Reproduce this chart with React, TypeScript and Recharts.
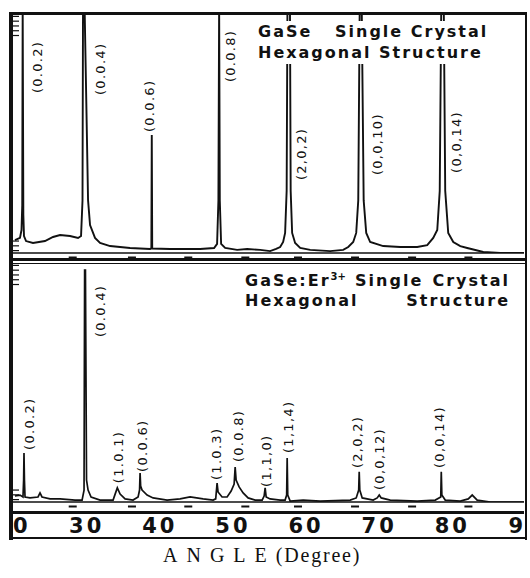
import React from "react";
import { ComposedChart, Line, Scatter, XAxis, YAxis } from "recharts";

const INK = "#111";
const sans = "'DejaVu Sans', Verdana, sans-serif";
const serif = "'Liberation Serif', 'Times New Roman', serif";

// printed 2θ scale under the lower trace
const angleTicks = [20, 30, 40, 50, 60, 70, 80, 90];
// little marks of the recorder's own scale, just under each baseline
const recorderMarks = [28.3, 36.4, 44.1, 51.9, 59.1, 66.9, 74.7, 82.4];
// ruler ticks on the left edge of each panel
const rulerTicks = [1, 3, 5, 91, 93, 95, 97, 99];

// GaSe single crystal (upper trace), intensity in % of panel height
const gaseAngle = [
  20.4, 21.09, 21.3, 21.4, 21.46, 21.55, 21.64, 21.92, 22.87, 24.51, 25.61, 26.57, 27.93, 29.03, 29.44,
  29.64, 29.71, 29.92, 30.4, 30.67, 31.35, 32.04, 33.41, 36.14, 38.88, 39.05, 39.11, 39.17, 41.61, 45.72,
  47.63, 48.04, 48.22, 48.32, 48.41, 48.59, 49.14, 50.78, 52.15, 53.93, 55.29, 56.11, 56.66, 57.07, 57.34,
  57.55, 57.66, 58.0, 58.1, 58.3, 58.71, 59.4, 60.77, 63.5, 65.28, 65.97, 66.65, 67.06, 67.34, 67.54,
  67.81, 68.08, 68.43, 68.97, 70.75, 73.08, 75.4, 76.77, 77.59, 78.14, 78.48, 78.69, 79.03, 79.23, 79.64,
  80.33, 81.29, 82.24, 84.43, 86.76, 90.2,
];
const gaseCounts = [
  5.4, 6.3, 9.6, 20, 104, 16, 7.1, 5.0, 4.2, 5.0, 6.7, 7.5, 7.1, 6.3, 7.1,
  22, 104, 104, 22, 11.7, 6.3, 4.2, 2.9, 2.1, 1.7, 1.9, 49.4, 1.9, 1.7, 1.7,
  2.1, 3.8, 22, 104, 22, 3.8, 2.1, 1.3, 1.7, 1.3, 0.8, 1.7, 2.5, 4.6, 8.4,
  26, 104, 104, 26, 8.4, 4.2, 2.1, 1.3, 0.8, 1.3, 2.5, 4.6, 8.4, 22, 104,
  104, 22, 8.4, 4.6, 2.9, 2.5, 2.5, 3.3, 6.3, 9.6, 26, 104, 104, 26, 8.4,
  4.6, 2.9, 2.1, 0.4, 0, 0,
];

// GaSe:Er3+ single crystal (lower trace)
const erAngle = [
  20.4, 21.09, 21.5, 21.59, 21.64, 21.7, 21.78, 22.46, 23.56, 23.83, 24.1, 25.2, 26.57, 28.62, 29.58,
  29.85, 29.93, 30.04, 30.19, 30.4, 30.81, 32.04, 33.82, 34.1, 34.4, 34.78, 35.46, 36.55, 37.24, 37.44,
  37.51, 37.59, 37.78, 38.47, 39.29, 41.2, 42.98, 44.35, 46.13, 47.5, 47.85, 48.04, 48.17, 48.72, 49.41,
  49.96, 50.37, 50.51, 50.64, 51.05, 51.6, 52.28, 53.24, 54.2, 54.47, 54.61, 54.75, 55.29, 56.66, 57.34,
  57.55, 57.62, 57.7, 58.03, 59.81, 62.13, 66.24, 67.06, 67.4, 67.47, 67.55, 67.88, 69.38, 69.93, 70.21,
  70.48, 71.71, 75.4, 77.87, 78.62, 78.69, 78.77, 79.23, 81.29, 82.38, 82.92, 83.6, 85.39, 90.2,
];
const erCounts = [
  2.5, 2.9, 2.1, 9.2, 20.5, 9.2, 2.1, 1.7, 2.1, 3.8, 2.1, 1.3, 1.3, 0.8, 0.8,
  5.0, 97, 97, 9.2, 5.0, 2.1, 0.8, 0.8, 3.3, 5.9, 3.3, 1.3, 0.8, 2.1, 5.0,
  12.1, 6.7, 5.0, 2.9, 1.7, 0.8, 1.3, 2.1, 1.3, 0.8, 1.3, 7.9, 4.2, 2.1, 2.1,
  4.6, 7.5, 14.6, 9.2, 6.3, 3.8, 1.7, 0.8, 0.8, 2.5, 5.9, 2.1, 1.3, 0.8, 0.8,
  2.9, 18.4, 2.9, 0.4, 0.8, 0.4, 0.8, 1.7, 5.0, 12.6, 5.0, 1.7, 0.8, 1.7, 2.9,
  1.7, 0.8, 0.4, 0.8, 2.1, 12.6, 2.9, 0.8, 0.4, 1.3, 2.9, 0.8, 0, 0,
];

// Miller indices written next to the peaks (angle, height where the text starts)
const gaseHkl = ["(0.0.2)", "(0.0.4)", "(0.0.6)", "(0.0.8)", "(2,0,2)", "(0,0,10)", "(0,0,14)"];
const gaseHklAngle = [23.49, 32.04, 38.81, 49.82, 59.53, 69.93, 80.74];
const gaseHklAt = [66.9, 66.1, 50.6, 71.5, 30.5, 32.6, 33.5];

const erHkl = ["(0.0.2)", "(0.0.4)", "(1.0.1)", "(0.0.6)", "(1.0.3)", "(0.0.8)", "(1,1,0)", "(1,1,4)", "(2,0,2)", "(0,0,12)", "(0,0,14)"];
const erHklAngle = [22.46, 32.04, 34.57, 37.85, 47.98, 50.98, 54.75, 57.76, 67.2, 70.27, 78.48];
const erHklAt = [21.8, 69.0, 7.9, 12.6, 9.2, 16.7, 6.3, 20.5, 14.2, 5.0, 14.2];

const toRows = (angles: number[], counts: number[]) => angles.map((a, i) => ({ a, v: counts[i] }));
const toLabels = (names: string[], angles: number[], at: number[]) =>
  names.map((label, i) => ({ a: angles[i], v: at[i], label }));

const gaseRows = toRows(gaseAngle, gaseCounts);
const erRows = toRows(erAngle, erCounts);
const gaseLabels = toLabels(gaseHkl, gaseHklAngle, gaseHklAt);
const erLabels = toLabels(erHkl, erHklAngle, erHklAt);

function PeakLabel(props: any) {
  const { cx, cy, payload } = props;
  if (cx == null || cy == null) return null;
  return (
    <text x={cx} y={cy} transform={`rotate(-90 ${cx} ${cy})`} dominantBaseline="central"
      fontFamily={sans} fontSize={13} letterSpacing={1.3} fill={INK}>
      {payload.label}
    </text>
  );
}

function RecorderMark(props: any) {
  const { x, y } = props;
  return <line x1={x - 4} x2={x + 4} y1={y + 4.5} y2={y + 4.5} stroke={INK} strokeWidth={2} />;
}

function RulerMark(props: any) {
  const { x, y } = props;
  return <line x1={x} x2={x + 7} y1={y} y2={y} stroke={INK} strokeWidth={1.2} />;
}

// the scan is trimmed: only the "0" of 20 and the "9" of 90 are left on the strip
function AngleTick(props: any) {
  const { x, y, payload } = props;
  const first = payload.value === angleTicks[0];
  const last = payload.value === angleTicks[angleTicks.length - 1];
  const text = first ? "0" : last ? "9" : String(payload.value);
  const anchor = first ? "start" : last ? "end" : "middle";
  const tx = first ? x + 1 : last ? x + 2 : x + 1.5;
  return (
    <text x={tx} y={y + 20.5} textAnchor={anchor} fontFamily={sans} fontWeight="bold"
      fontSize={21} letterSpacing={3} fill={INK}>
      {text}
    </text>
  );
}

const rule = (left: number, top: number, width: number, height: number) => (
  <div style={{ position: "absolute", left, top, width, height, background: INK }} />
);

export default function App() {
  const yAxis = (
    <YAxis type="number" domain={[0, 100]} allowDataOverflow width={7} ticks={rulerTicks} interval={0}
      tickSize={0} tickMargin={0} axisLine={false} tickLine={false} tick={<RulerMark />} />
  );
  return (
    <div style={{ position: "absolute", left: 0, top: 0, width: 530, height: 578, background: "#fff", overflow: "hidden" }}>
      {/* GaSe */}
      <div style={{ position: "absolute", left: 13, top: 0, width: 512, height: 259, overflow: "hidden" }}>
        <div style={{ position: "absolute", left: -13, top: 0 }}>
          <ComposedChart width={530} height={259} margin={{ top: 14, right: 6, bottom: 0, left: 5 }}>
            <XAxis dataKey="a" type="number" domain={[20, 90]} allowDataOverflow ticks={recorderMarks} interval={0}
              tickLine={false} tickSize={0} tickMargin={0} height={6}
              axisLine={{ stroke: INK, strokeWidth: 1.5 }} tick={<RecorderMark />} />
            {yAxis}
            <Line data={gaseRows} dataKey="v" type="linear" stroke={INK} strokeWidth={1.9} dot={false} isAnimationActive={false} />
            <Scatter data={gaseLabels} dataKey="v" shape={PeakLabel} isAnimationActive={false} />
          </ComposedChart>
        </div>
      </div>

      {/* GaSe:Er3+ */}
      <div style={{ position: "absolute", left: 13, top: 263, width: 512, height: 276, overflow: "hidden" }}>
        <div style={{ position: "absolute", left: -13, top: 0 }}>
          <ComposedChart width={530} height={276} margin={{ top: 0, right: 6, bottom: 0, left: 5 }}>
            <XAxis dataKey="a" type="number" domain={[20, 90]} allowDataOverflow ticks={recorderMarks} interval={0}
              tickLine={false} tickSize={0} tickMargin={0} height={10.5}
              axisLine={{ stroke: INK, strokeWidth: 1.5 }} tick={<RecorderMark />} />
            <XAxis xAxisId="deg" dataKey="a" type="number" domain={[20, 90]} allowDataOverflow ticks={angleTicks} interval={0}
              tickLine={false} tickSize={0} tickMargin={0} height={26.5}
              axisLine={{ stroke: INK, strokeWidth: 3 }} tick={<AngleTick />} />
            {yAxis}
            <Line data={erRows} dataKey="v" type="linear" stroke={INK} strokeWidth={1.7} dot={false} isAnimationActive={false} />
            <Scatter data={erLabels} dataKey="v" shape={PeakLabel} isAnimationActive={false} />
          </ComposedChart>
        </div>
      </div>

      {/* frame */}
      {rule(9, 12, 518, 3)}
      {rule(9, 12, 4, 528)}
      {rule(525, 12, 2, 528)}
      {rule(9, 258, 518, 3)}
      {rule(9, 263, 518, 1)}
      {rule(9, 537, 518, 2)}

      <div style={{ position: "absolute", left: 256, top: 20.7, padding: "0 2px", background: "#fff", color: INK,
        fontFamily: sans, fontWeight: "bold", fontSize: 16, lineHeight: "21.5px", letterSpacing: 2, whiteSpace: "pre" }}>
        <div>{"GaSe   Single Crystal"}</div>
        <div>{"Hexagonal Structure"}</div>
      </div>

      <div style={{ position: "absolute", left: 245, top: 270.7, width: 265, color: INK,
        fontFamily: sans, fontWeight: "bold", fontSize: 16, lineHeight: "20.5px", letterSpacing: 2 }}>
        <div style={{ display: "flex", justifyContent: "space-between" }}>
          <span>GaSe:Er<sup style={{ fontSize: 10, lineHeight: 0, letterSpacing: 0 }}>3+</sup></span>
          <span>Single</span>
          <span>Crystal</span>
        </div>
        <div style={{ display: "flex", justifyContent: "space-between" }}>
          <span>Hexagonal</span>
          <span>Structure</span>
        </div>
      </div>

      <div style={{ position: "absolute", left: 163, top: 544, color: INK, fontFamily: serif, fontSize: 20,
        lineHeight: "23px", whiteSpace: "pre" }}>
        <span style={{ letterSpacing: 9 }}>ANGLE</span>
        <span style={{ letterSpacing: 1.8 }}>(Degree)</span>
      </div>
    </div>
  );
}
